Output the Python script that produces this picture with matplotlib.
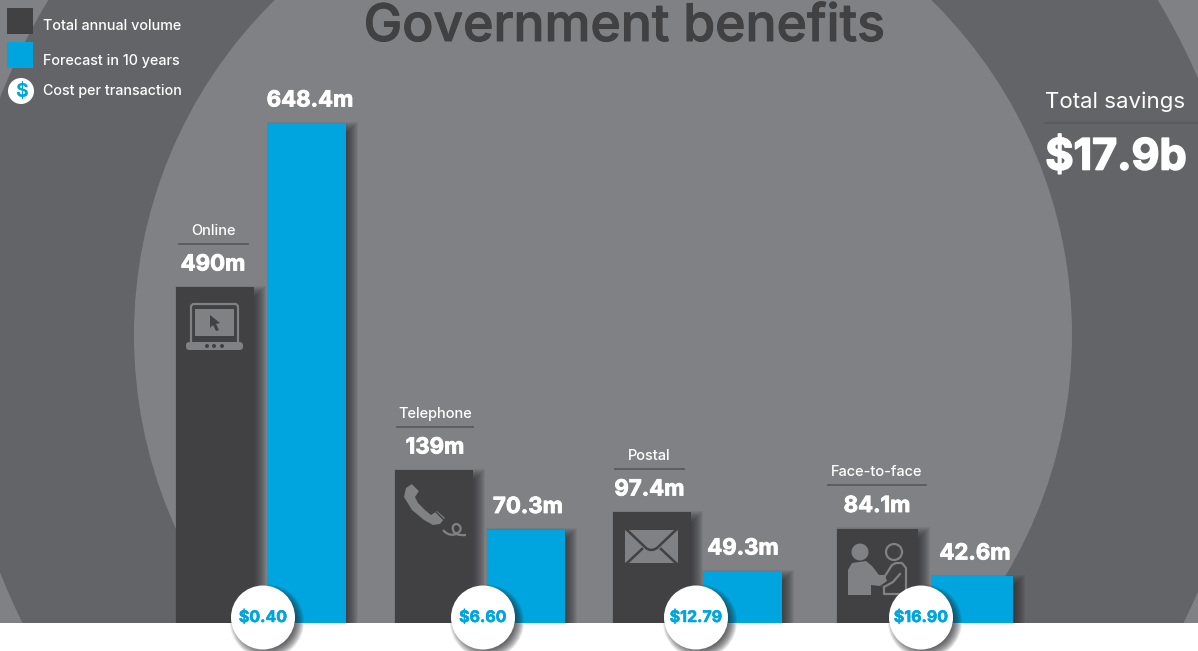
import numpy as np
import matplotlib
matplotlib.use('Agg')
import matplotlib.pyplot as plt
import matplotlib.patheffects as pe
from matplotlib.patches import Circle, Rectangle, FancyBboxPatch, Polygon, PathPatch
from matplotlib.path import Path

W, H = 1198, 651
BASE_Y = 623  # pixel row of the bar baseline

plt.rcParams['font.family'] = ['Inter', 'DejaVu Sans']

COL_LIGHT = '#808185'
COL_RING = '#636468'
COL_DARK = '#414042'
COL_BLUE = '#00a5df'
COL_RULE = '#5a5b5f'

CHANNELS = ['Online', 'Telephone', 'Postal', 'Face-to-face']
VOLUME = [490, 139, 97.4, 84.1]
FORECAST = [648.4, 70.3, 49.3, 42.6]
COST = [0.40, 6.60, 12.79, 16.90]
VOLUME_LABELS = ['490m', '139m', '97.4m', '84.1m']
FORECAST_LABELS = ['648.4m', '70.3m', '49.3m', '42.6m']
TOTAL_SAVINGS = '$17.9b'

# the bars are not to a linear scale, so the y axis is a warped one
SCALE_VALUE = [0, 42.6, 49.3, 70.3, 84.1, 97.4, 139, 490, 648.4, 900]
SCALE_HEIGHT = [0, 47, 52, 93.5, 94.5, 111, 153, 336, 500, 623]

# left/right pixel edges of each bar pair
VOL_X = [(176, 254), (395, 473), (613, 691), (837, 918)]
FC_X = [(268, 346), (487, 565), (704, 782), (932, 1013)]
VOL_LABEL_X = [213, 435, 649.5, 877]
FC_LABEL_X = [310, 528, 743, 975]
BADGE_X = [263, 483, 696, 921]
LINE_HALF = [34.5, 38, 34.5, 49]


def to_height(v):
    return np.interp(v, SCALE_VALUE, SCALE_HEIGHT)


def from_height(h):
    return np.interp(h, SCALE_HEIGHT, SCALE_VALUE)


def soft_shadow(ax, x0, y0, w, h, zorder, dx=5, dy=5, n=13):
    # stacked translucent rectangles fake a blurred drop shadow
    for i in range(n):
        g = n / 2 - i
        ax.add_patch(Rectangle((x0 + dx - g, y0 + dy - g), w + 2 * g, h + 2 * g,
                               fc='#2a2a2c', ec='none', alpha=0.085, zorder=zorder))


def badge(ax, cx, cy, r, text, size):
    for i in range(11):
        g = 5 - i
        ax.add_patch(Circle((cx + 4, cy + 4), r + g, fc='#222224', ec='none',
                            alpha=0.1, zorder=5))
    ax.add_patch(Circle((cx, cy), r, fc='white', ec='none', zorder=6))
    t = ax.text(cx, cy, text, color=COL_BLUE, fontsize=size, fontweight='bold',
                ha='center', va='center', zorder=7)
    t.set_path_effects([pe.withStroke(linewidth=0.4, foreground=COL_BLUE)])


def draw_laptop(ax):
    ax.plot([191, 191, 193, 236, 238, 238], [341, 306, 304, 304, 306, 341], color=COL_LIGHT, lw=1.6)
    ax.add_patch(Rectangle((195, 309), 39, 27, fc=COL_LIGHT, ec='none'))
    ax.add_patch(FancyBboxPatch((186, 342), 57, 8, boxstyle='round,pad=0,rounding_size=3.5',
                                fc=COL_LIGHT, ec='none'))
    for x in (207, 214, 222):
        ax.add_patch(Circle((x, 346), 2, fc=COL_DARK, ec='none'))
    ax.add_patch(Polygon([(210, 315), (220, 323), (216, 324), (219, 330), (216, 331),
                          (213, 325), (210, 328)], fc=COL_DARK, ec='none'))


def draw_phone(ax):
    verts = [(406, 488), (404, 497), (412, 510), (424, 520), (433, 525), (440, 524),
             (445, 518), (437, 511), (431, 515), (425, 510), (418, 503), (415, 497),
             (419, 491), (412, 484), (406, 488)]
    ax.add_patch(Polygon(verts, fc=COL_LIGHT, ec='none'))
    ax.plot([411, 421], [482, 492], color=COL_DARK, lw=1.0)
    ax.plot([436, 446], [512, 522], color=COL_DARK, lw=1.0)
    cord = Path([(443, 530), (449, 537), (456, 535), (459, 532), (463, 528), (459, 524), (456, 524),
                 (452, 525), (452, 529), (454, 532), (458, 536), (462, 535), (466, 535)],
                [Path.MOVETO] + [Path.CURVE4] * 12)
    ax.add_patch(PathPatch(cord, fc='none', ec=COL_LIGHT, lw=1.6))


def draw_envelope(ax):
    ax.add_patch(FancyBboxPatch((625, 530), 53, 33, boxstyle='round,pad=0,rounding_size=1',
                                fc=COL_LIGHT, ec='none'))
    flap = Path([(625, 528), (646, 548), (651, 552), (657, 548), (678, 528)],
                [Path.MOVETO, Path.LINETO, Path.CURVE3, Path.CURVE3, Path.LINETO])
    ax.add_patch(PathPatch(flap, fc='none', ec=COL_DARK, lw=1.8))
    ax.plot([625, 642], [565, 549], color=COL_DARK, lw=1.8)
    ax.plot([678, 661], [565, 549], color=COL_DARK, lw=1.8)


def draw_people(ax):
    ax.add_patch(Circle((860, 552), 8.5, fc=COL_LIGHT, ec='none'))
    ax.add_patch(Circle((894, 552), 8, fc='none', ec=COL_LIGHT, lw=1.6))
    body = [(848, 595), (848, 570), (852, 563), (866, 561), (872, 566), (879, 575),
            (885, 575), (887, 581), (880, 586), (871, 585), (871, 595)]
    ax.add_patch(Polygon(body, fc=COL_LIGHT, ec='none'))
    ax.plot([885, 892, 896, 902, 906, 906, 884, 884],
            [576, 565, 563, 563, 568, 594, 594, 587], color=COL_LIGHT, lw=1.6)
    ax.plot([884, 893, 900], [587, 582, 574], color=COL_LIGHT, lw=1.6)


def bold_text(ax, x, y, s, size, color='white', width=0.6, **kw):
    # thickened glyphs, the installed weights run lighter than the display face
    t = ax.text(x, y, s, color=color, fontsize=size, fontweight='bold',
                ha='center', va='center', **kw)
    t.set_path_effects([pe.withStroke(linewidth=width, foreground=color)])
    return t


fig = plt.figure(figsize=(W / 100, H / 100), dpi=100)

# backdrop: concentric discs, shadows, white strip under the baseline
ax_bg = fig.add_axes([0, 0, 1, 1], zorder=0)
ax_bg.set_xlim(0, W)
ax_bg.set_ylim(H, 0)
ax_bg.axis('off')
ax_bg.add_patch(Rectangle((0, 0), W, H, fc=COL_LIGHT, ec='none', zorder=0))
ax_bg.add_patch(Circle((603, 335), 648, fc=COL_RING, ec='none', zorder=1))
ax_bg.add_patch(Circle((603, 335), 469, fc=COL_LIGHT, ec='none', zorder=2))
for i in range(4):
    for (x0, x1), v in ((VOL_X[i], VOLUME[i]), (FC_X[i], FORECAST[i])):
        hgt = float(to_height(v))
        soft_shadow(ax_bg, x0, BASE_Y - hgt, x1 - x0, hgt, 3)
ax_bg.add_patch(Rectangle((0, BASE_Y), W, H - BASE_Y, fc='white', ec='none', zorder=4))

# bars, drawn in value units through the warped y scale
ax = fig.add_axes([0, (H - BASE_Y) / H, 1, BASE_Y / H], zorder=1)
ax.patch.set_alpha(0)
ax.set_xlim(0, W)
ax.set_yscale('function', functions=(to_height, from_height))
ax.set_ylim(0, from_height(BASE_Y))
ax.axis('off')
for i in range(4):
    ax.bar(VOL_X[i][0], VOLUME[i], width=VOL_X[i][1] - VOL_X[i][0], align='edge', color=COL_DARK)
    ax.bar(FC_X[i][0], FORECAST[i], width=FC_X[i][1] - FC_X[i][0], align='edge', color=COL_BLUE)

# text, icons and cost badges on top
top = fig.add_axes([0, 0, 1, 1], zorder=2)
top.patch.set_alpha(0)
top.set_xlim(0, W)
top.set_ylim(H, 0)
top.axis('off')

title = top.text(624, 41, 'Government benefits', color=COL_DARK, fontsize=37.2, fontweight='medium',
                 ha='center', va='baseline')
title.set_path_effects([pe.withStroke(linewidth=0.7, foreground=COL_DARK)])

top.add_patch(Rectangle((7, 8), 26, 26, fc=COL_DARK, ec='none'))
top.add_patch(Rectangle((7, 42), 26, 26, fc=COL_BLUE, ec='none'))
top.add_patch(Circle((21, 91), 13, fc='white', ec='none'))
top.text(21, 92, '$', color=COL_BLUE, fontsize=14, fontweight='bold', ha='center', va='center')
for txt, y in (('Total annual volume', 26), ('Forecast in 10 years', 61), ('Cost per transaction', 91)):
    top.text(43, y, txt, color='white', fontsize=10.3, fontweight='medium', va='center')

for i in range(4):
    vtop = BASE_Y - float(to_height(VOLUME[i]))
    ftop = BASE_Y - float(to_height(FORECAST[i]))
    xc = VOL_LABEL_X[i]
    bold_text(top, xc, vtop - 22.5, VOLUME_LABELS[i], 16)
    top.plot([xc - LINE_HALF[i], xc + LINE_HALF[i]], [vtop - 43.5] * 2, color=COL_RULE, lw=1.3)
    top.text(xc, vtop - 56, CHANNELS[i], color='white', fontsize=10.5, fontweight='medium',
             ha='center', va='center')
    bold_text(top, FC_LABEL_X[i], ftop - 22.5, FORECAST_LABELS[i], 16)
    badge(top, BADGE_X[i], 617.5, 32, f'${COST[i]:.2f}', 11.5)

draw_laptop(top)
draw_phone(top)
draw_envelope(top)
draw_people(top)

top.text(1115, 101.5, 'Total savings', color='white', fontsize=16, ha='center', va='center')
top.plot([1045, W], [123, 123], color=COL_RULE, lw=1.5)
bold_text(top, 1116, 158, TOTAL_SAVINGS, 31, width=1.2)

fig.savefig('out.png', dpi=100)
